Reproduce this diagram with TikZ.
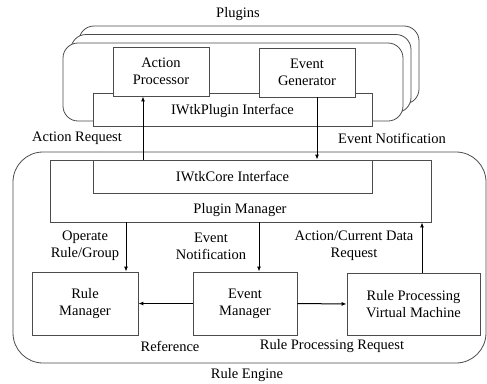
\documentclass[tikz,border=0pt]{standalone}
\usepackage{fontspec}
\setmainfont{Liberation Serif}
\usetikzlibrary{arrows.meta,calc}
\begin{document}
\begin{tikzpicture}[x=1pt,y=-1pt,
  font=\fontsize{14.5}{17}\selectfont,
  box/.style={draw=black!70, line width=0.8pt, fill=white, inner sep=0pt, align=center},
  plugbox/.style={box, rounded corners=15pt, minimum width=340pt, minimum height=78pt},
  lbl/.style={inner sep=0pt, align=center},
  arr/.style={draw=black, line width=1pt, -{Latex[length=5pt,width=4pt]}}]
\useasboundingbox (0,0) rectangle (487,383);
% Plugins stack
\node[plugbox] (plugback) at (249,65) {};
\node[plugbox] (plugmid) at (241,73.5) {};
\node[plugbox] (plugfront) at (233,82) {};
\node[lbl] (pluginslbl) at (238,14) {Plugins};
\node[box, minimum width=279pt, minimum height=33pt] (pif) at (232.5,109.5) {};
\node[lbl] (piftxt) at (232.5,111) {IWtkPlugin Interface};
\node[box, minimum width=96pt, minimum height=49pt] (ap) at (161,71.5) {Action\\Processor};
\node[box, minimum width=96pt, minimum height=49pt] (eg) at (307,72.5) {Event\\Generator};
\node[lbl] (actreq) at (77,138) {Action Request};
\node[lbl] (evnot1) at (392,138) {Event Notification};
% Rule engine
\node[box, rounded corners=30pt, minimum width=473pt, minimum height=211pt] (re) at (249.5,257.5) {};
\node[lbl] (relbl) at (247,375) {Rule Engine};
\node[box, minimum width=381pt, minimum height=62pt] (pm) at (240.5,191) {};
\node[lbl] (pmtxt) at (240,210) {Plugin Manager};
\node[box, minimum width=279pt, minimum height=33pt] (core) at (232.5,176.5) {IWtkCore Interface};
\node[box, minimum width=106pt, minimum height=63pt] (rm) at (85,303.5) {Rule\\Manager};
\node[box, minimum width=104pt, minimum height=63pt] (em) at (245,303.5) {Event\\Manager};
\node[box, minimum width=133pt, minimum height=62pt] (vm) at (413.5,304) {Rule Processing\\Virtual Machine};
\node[lbl] (oplbl) at (85,246) {Operate\\Rule/Group};
\node[lbl] (evnot2) at (211,246) {Event\\Notification};
\node[lbl] (adlbl) at (354,246) {Action/Current Data\\Request};
\node[lbl] (reflbl) at (170,346) {Reference};
\node[lbl] (rprlbl) at (332,346) {Rule Processing Request};
% arrows
\draw[arr] (core.north -| 143,0) -- (ap.south -| 143,0);
\draw[arr] (eg.south -| 317,0) -- (core.north -| 317,0);
\draw[arr] (pm.south -| 126,0) -- (rm.north -| 126,0);
\draw[arr] (pm.south -| 259,0) -- (em.north -| 259,0);
\draw[arr] (vm.north -| 422,0) -- (pm.south -| 422,0);
\draw[arr] (em.west) -- (rm.east);
\draw[arr] (em.east) -- (vm.west);
\end{tikzpicture}
\end{document}
